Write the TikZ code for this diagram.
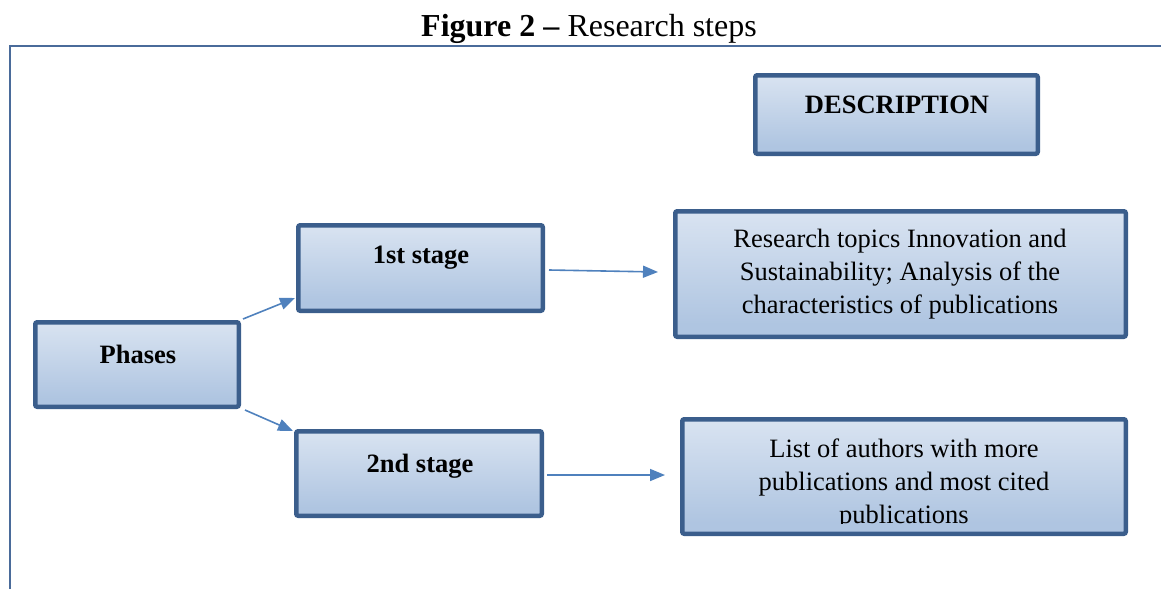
\documentclass[tikz,border=0pt]{standalone}
\usepackage{fontspec}
\setmainfont{Liberation Serif}
\usetikzlibrary{arrows.meta,calc}
\definecolor{shB}{HTML}{C6D6EB}
\definecolor{shM}{HTML}{AFC5E1}
\definecolor{shT}{HTML}{F0F4FA}
\definecolor{boxborder}{HTML}{3B5E8C}
\definecolor{arrowblue}{HTML}{4F81BD}
\definecolor{framecol}{HTML}{4A6B9A}
\pgfdeclareverticalshading{boxshade}{100bp}{color(0bp)=(shB); color(22bp)=(shM); color(30bp)=(shM); color(100bp)=(shT)}
\tikzset{
  stagebox/.style={draw=boxborder, line width=4.5pt, rounded corners=2pt, shading=boxshade, inner sep=0pt},
  boxtext/.style={font=\fontsize{26.5}{33}\selectfont, align=center, inner sep=0pt},
  boldtext/.style={font=\fontsize{26.5}{33}\selectfont\bfseries, inner sep=0pt, anchor=base},
  conn/.style={draw=arrowblue, line width=1.6pt, -{Triangle[length=15pt,width=12pt]}},
}
\begin{document}
\begin{tikzpicture}[x=1pt,y=-1pt]
\useasboundingbox (0,0) rectangle (1161,589);
% title
\node[inner sep=0pt, anchor=base, font=\fontsize{32}{36}\selectfont] (title) at (589,36) {\textbf{Figure 2 –} Research steps};
% frame
\coordinate (fbl) at (10,589);
\coordinate (ftl) at (10,46);
\coordinate (ftr) at (1161,46);
\draw[framecol, line width=2.5pt] (fbl) -- (ftl) -- (ftr);
% boxes
\node[stagebox, minimum width=282.5pt, minimum height=78.5pt] (desc) at (896.5,114.5) {};
\node[boldtext] (descT) at (897,113) {DESCRIPTION};
\node[stagebox, minimum width=244.5pt, minimum height=85.5pt] (s1) at (420.5,268) {};
\node[boldtext] (s1T) at (421,263) {1st stage};
\node[stagebox, minimum width=203.5pt, minimum height=84.5pt] (phases) at (137,364.5) {};
\node[boldtext] (phasesT) at (138,363) {Phases};
\node[stagebox, minimum width=245.5pt, minimum height=84.5pt] (s2) at (419,473.5) {};
\node[boldtext] (s2T) at (420,472) {2nd stage};
\node[stagebox, minimum width=450.5pt, minimum height=125.5pt] (r1) at (900.5,274) {};
\node[boxtext] (r1T) at (900,274) {Research topics Innovation and\\Sustainability; Analysis of the\\characteristics of publications};
\node[stagebox, minimum width=443.5pt, minimum height=114.5pt] (r2) at (904,476.5) {};
\begin{scope}
\clip ($(r2.north west)+(0,0)$) rectangle ($(r2.south east)+(0,-12.5)$);
\node[boxtext] (r2T) at (904,484) {List of authors with more\\publications and most cited\\publications};
\end{scope}
% connectors
\draw[conn] ($(phases.north east)+(2,-1)$) -- ($(s1.west)+(-1,30)$);
\draw[conn] ($(phases.south east)+(4,1)$) -- ($(s2.north west)+(-1,2)$);
\draw[conn] ($(s1.east)+(4,2)$) -- ($(r1.west)+(-15,-2)$);
\draw[conn] ($(s2.east)+(3,1.5)$) -- ($(r2.west)+(-15,-1.5)$);
\end{tikzpicture}
\end{document}
